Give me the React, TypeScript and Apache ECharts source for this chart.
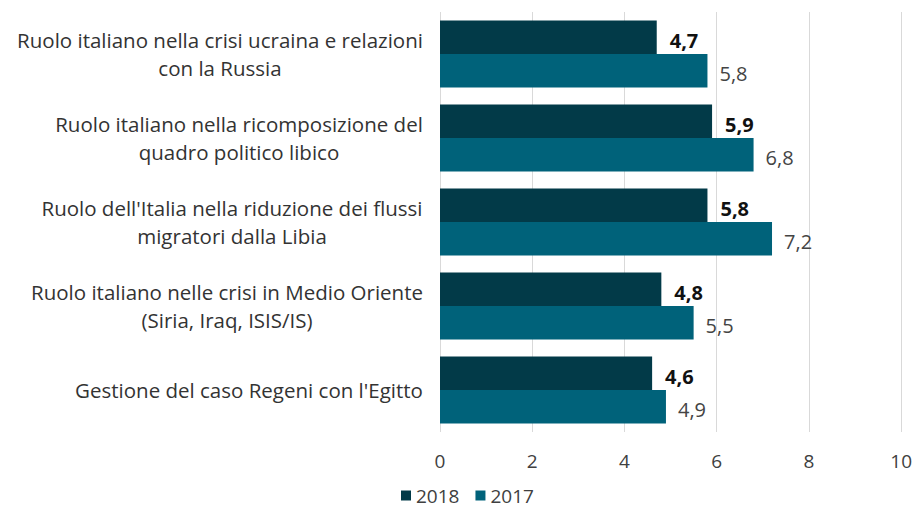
import React, { useEffect, useRef } from "react";
import * as echarts from "echarts";

const categories = [
  "Ruolo italiano nella crisi ucraina e relazioni\ncon la Russia",
  "Ruolo italiano nella ricomposizione del\nquadro politico libico",
  "Ruolo dell'Italia nella riduzione dei flussi\nmigratori dalla Libia",
  "Ruolo italiano nelle crisi in Medio Oriente\n(Siria, Iraq, ISIS/IS)",
  "Gestione del caso Regeni con l'Egitto",
];
const seriesNames = ["2018", "2017"];
const values2018 = [4.7, 5.9, 5.8, 4.8, 4.6];
const values2017 = [5.8, 6.8, 7.2, 5.5, 4.9];
const xTicks = { min: 0, max: 10, interval: 2 };

const FONT = "'Open Sans', Lato, sans-serif";
const CAT_SIZE = 20.5;

function measure(text: string, size: number): number {
  const c = document.createElement("canvas").getContext("2d");
  if (!c) return text.length * size * 0.5;
  c.font = `${size}px 'Open Sans'`;
  return c.measureText(text).width;
}

export default function App() {
  const ref = useRef<HTMLDivElement>(null);
  useEffect(() => {
    if (!ref.current) return;
    const chart = echarts.init(ref.current, null, { renderer: "svg" });
    const rich: Record<string, any> = {};
    categories.forEach((cat, i) => {
      const w = Math.max(...cat.split("\n").map((l) => measure(l, CAT_SIZE)));
      rich["c" + i] = {
        width: Math.ceil(w) + 2,
        align: "center",
        fontSize: CAT_SIZE,
        fontFamily: FONT,
        color: "#333333",
        lineHeight: 28.5,
      };
    });
    const fmt = (v: number) => v.toFixed(1).replace(".", ",");
    chart.setOption({
      animation: false,
      backgroundColor: "#ffffff",
      textStyle: { fontFamily: FONT },
      grid: { left: 440, right: 12, top: 12, bottom: 79, containLabel: false },
      legend: {
        data: seriesNames,
        left: 396,
        bottom: 1,
        icon: "rect",
        itemWidth: 10,
        itemHeight: 10,
        itemGap: 16,
        textStyle: { fontSize: 19, color: "#404040", fontFamily: FONT },
      },
      xAxis: {
        type: "value",
        min: xTicks.min,
        max: xTicks.max,
        interval: xTicks.interval,
        axisLine: { show: false },
        axisTick: { show: false },
        splitLine: { show: true, lineStyle: { color: "#d9d9d9", width: 1 } },
        axisLabel: { fontSize: 19, color: "#404040", margin: 19, fontFamily: FONT },
      },
      yAxis: {
        type: "category",
        inverse: true,
        data: categories,
        axisLine: { show: false },
        axisTick: { show: false },
        axisLabel: {
          margin: 16,
          align: "right",
          formatter: (value: string) => {
            const i = categories.indexOf(value);
            return value
              .split("\n")
              .map((l) => `{c${i}|${l}}`)
              .join("\n");
          },
          rich,
        },
      },
      series: [
        {
          name: seriesNames[0],
          type: "bar",
          data: values2018,
          barGap: "0%",
          barCategoryGap: "20%",
          itemStyle: { color: "#023a48" },
          label: {
            show: true,
            position: "right",
            distance: 13,
            offset: [0, 3],
            formatter: (p: any) => fmt(p.value),
            fontSize: 20,
            fontWeight: "bold",
            color: "#111111",
            fontFamily: FONT,
          },
        },
        {
          name: seriesNames[1],
          type: "bar",
          data: values2017,
          barGap: "0%",
          barCategoryGap: "20%",
          itemStyle: { color: "#00627a" },
          label: {
            show: true,
            position: "right",
            distance: 12,
            offset: [0, 3],
            formatter: (p: any) => fmt(p.value),
            fontSize: 20,
            color: "#444444",
            fontFamily: FONT,
          },
        },
      ],
    });
    return () => chart.dispose();
  }, []);
  return (
    <div
      ref={ref}
      style={{ position: "fixed", left: 0, top: 0, width: 915, height: 511 }}
    />
  );
}
